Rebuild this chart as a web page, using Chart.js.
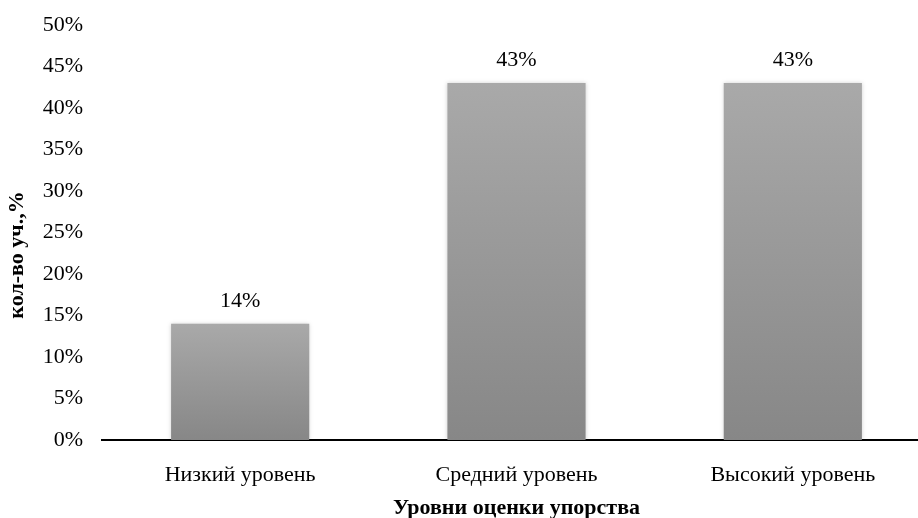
<!DOCTYPE html>
<html>
<head>
<meta charset="utf-8">
<script src="https://cdn.jsdelivr.net/npm/chart.js@4.4.1/dist/chart.umd.min.js"></script>
<style>
  html, body { margin: 0; padding: 0; background: #fff; overflow: hidden; }
  #wrap { width: 918px; height: 518px; overflow: hidden; }
  #box { width: 931px; height: 518px; }
</style>
</head>
<body>
<div id="wrap"><div id="box"><canvas id="chart"></canvas></div></div>
<script>
const categories = ["Низкий уровень", "Средний уровень", "Высокий уровень"];
const values = [14, 43, 43];
const valueLabels = ["14%", "43%", "43%"];
const yTicks = [0, 5, 10, 15, 20, 25, 30, 35, 40, 45, 50];
const yTitle = "кол-во уч.,%";
const xTitle = "Уровни оценки упорства";

const serif = "'Liberation Serif', 'Times New Roman', serif";

// gradient per bar, lighter at the top
function barFill(ctx) {
  const chart = ctx.chart;
  if (!chart.chartArea) return "#999";
  const y = chart.scales.y;
  const top = y.getPixelForValue(values[ctx.dataIndex]);
  const bottom = y.getPixelForValue(0);
  const g = chart.ctx.createLinearGradient(0, top, 0, bottom);
  g.addColorStop(0, "#a9a9a9");
  g.addColorStop(1, "#878787");
  return g;
}

const labelPlugin = {
  id: "valueLabels",
  afterDatasetsDraw(chart) {
    const c = chart.ctx;
    const meta = chart.getDatasetMeta(0);
    c.save();
    c.font = "22px " + serif;
    c.fillStyle = "#000";
    c.textAlign = "center";
    c.textBaseline = "middle";
    meta.data.forEach((bar, i) => {
      c.fillText(valueLabels[i], bar.x, bar.y - 23);
    });
    // y axis title, a bit below the middle as in the original
    c.translate(17, 255);
    c.rotate(-Math.PI / 2);
    c.font = "bold 22px " + serif;
    c.fillText(yTitle, 0, 0);
    c.restore();
  }
};

const shadowPlugin = {
  id: "barShadow",
  beforeDatasetsDraw(chart) {
    chart.ctx.save();
    chart.ctx.shadowColor = "rgba(0,0,0,0.18)";
    chart.ctx.shadowBlur = 4;
  },
  afterDatasetsDraw(chart) {
    chart.ctx.restore();
  }
};

new Chart(document.getElementById("chart").getContext("2d"), {
  type: "bar",
  data: {
    labels: categories,
    datasets: [{
      data: values,
      backgroundColor: barFill,
      borderWidth: 0,
      barPercentage: 0.5,
      categoryPercentage: 1
    }]
  },
  options: {
    responsive: true,
    maintainAspectRatio: false,
    animation: false,
    layout: { padding: { top: 25, right: 0, left: 0, bottom: 0 } },
    plugins: { legend: { display: false }, tooltip: { enabled: false } },
    scales: {
      x: {
        grid: { display: false, drawTicks: false },
        border: { display: true, color: "#000", width: 2 },
        ticks: { color: "#000", font: { family: serif, size: 22 }, padding: 22 },
        title: {
          display: true,
          text: xTitle,
          color: "#000",
          font: { family: serif, size: 22, weight: "bold" },
          padding: { top: 12, bottom: -4 }
        },
        afterFit(scale) { scale.height = 78; }
      },
      y: {
        min: 0,
        max: 50,
        afterBuildTicks(scale) { scale.ticks = yTicks.map(v => ({ value: v })); },
        grid: { display: false, drawTicks: false },
        border: { display: false },
        ticks: {
          color: "#000",
          font: { family: serif, size: 22 },
          padding: 19,
          callback: v => v + "%"
        },
        afterFit(scale) {
          scale.width = 102;
          scale.paddingTop = 0;
          scale.paddingBottom = 0;
        }
      }
    }
  },
  plugins: [shadowPlugin, labelPlugin]
});
</script>
</body>
</html>
